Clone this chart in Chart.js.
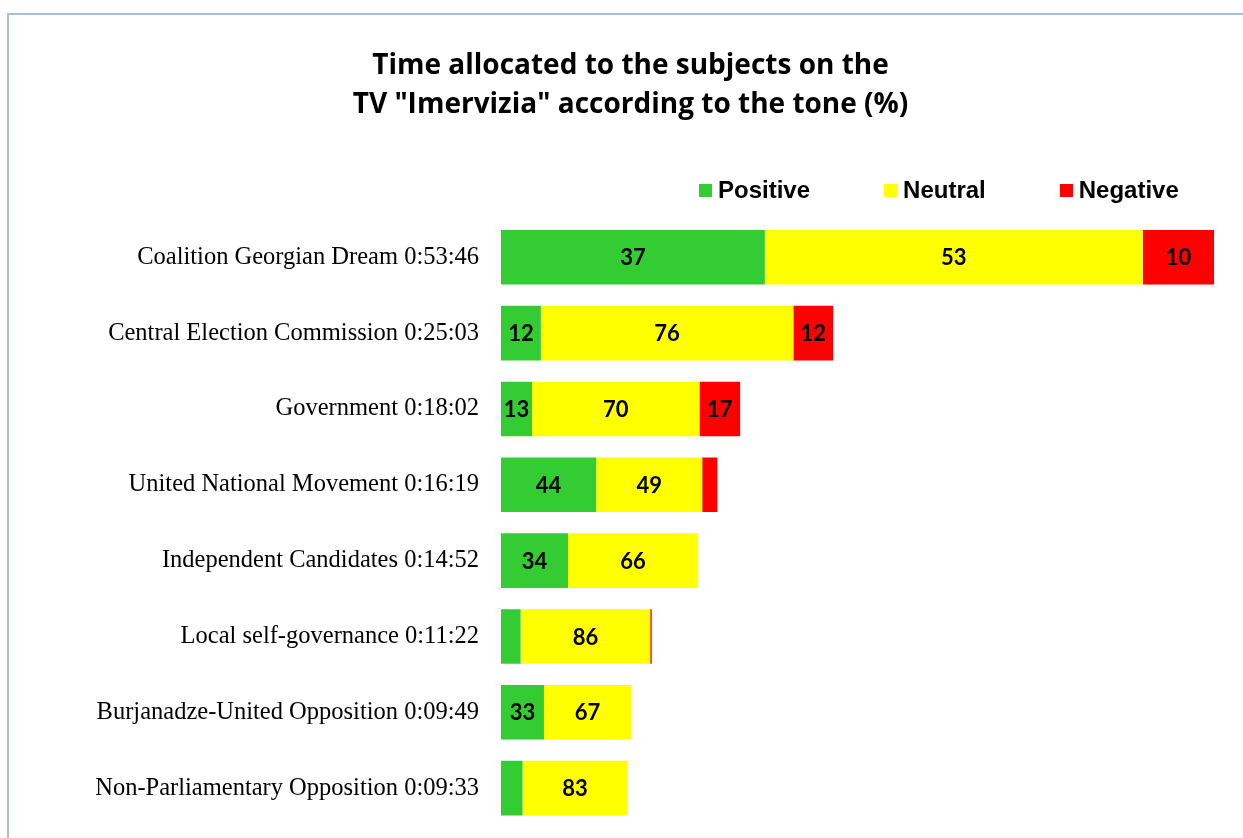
<!DOCTYPE html>
<html>
<head>
<meta charset="utf-8">
<title>Imervizia tone</title>
<script src="https://cdn.jsdelivr.net/npm/chart.js@4.4.1/dist/chart.umd.min.js"></script>
<style>
  html, body { margin: 0; padding: 0; background: #fff; overflow: hidden; }
  #frame {
    position: absolute; left: 7px; top: 13px; width: 1400px; height: 1000px;
    border-left: 2px solid #a9bfdf; border-top: 2px solid #a9bfdf;
    box-sizing: border-box;
  }
  #wrap { position: absolute; left: 0; top: 0; width: 1243px; height: 838px; }
  #legend {
    position: absolute; left: 699px; top: 176px; height: 28px;
    display: flex; align-items: center;
    font: bold 24px "Liberation Sans", Arial, sans-serif; color: #000;
  }
  .item { display: flex; align-items: center; margin-right: 74px; }
  .item:last-child { margin-right: 0; }
  .swatch { width: 13px; height: 13px; margin-right: 6px; }
</style>
</head>
<body>
<div id="frame"></div>
<div id="wrap"><canvas id="chart"></canvas></div>
<div id="legend"></div>
<script>
'use strict';

// ── Data ───────────────────────────────────────────────────────────────────
const subjects  = [
  'Coalition Georgian Dream', 'Central Election Commission', 'Government',
  'United National Movement', 'Independent Candidates', 'Local self-governance',
  'Burjanadze-United Opposition', 'Non-Parliamentary Opposition',
];
const durations = ['0:53:46', '0:25:03', '0:18:02', '0:16:19', '0:14:52', '0:11:22', '0:09:49', '0:09:33'];
const positive  = [37, 12, 13, 44, 34, 13, 33, 17];
const neutral   = [53, 76, 70, 49, 66, 86, 67, 83];
const negative  = [10, 12, 17, 7, 0, 1, 0, 0];
const seriesNames  = ['Positive', 'Neutral', 'Negative'];
const seriesColors = ['#33cc33', '#ffff00', '#ff0000'];

// bar length = airtime, segments = share of that airtime
const seconds = durations.map(d => d.split(':').reduce((acc, p) => acc * 60 + Number(p), 0));
const labels  = subjects.map((s, i) => `${s} ${durations[i]}`);
const shares  = [positive, neutral, negative];

// ── Legend ─────────────────────────────────────────────────────────────────
document.getElementById('legend').innerHTML = seriesNames.map((n, i) =>
  `<div class="item"><div class="swatch" style="background:${seriesColors[i]}"></div>${n}</div>`
).join('');

// ── Segment labels ─────────────────────────────────────────────────────────
const segmentLabels = {
  id: 'segmentLabels',
  afterDatasetsDraw(chart) {
    const ctx = chart.ctx;
    ctx.save();
    ctx.font = 'bold 22px Lato, "Open Sans", sans-serif';
    ctx.fillStyle = '#000';
    ctx.textAlign = 'center';
    ctx.textBaseline = 'middle';
    chart.data.datasets.forEach((ds, di) => {
      chart.getDatasetMeta(di).data.forEach((bar, i) => {
        const { x, base, y } = bar.getProps(['x', 'base', 'y'], true);
        if (Math.abs(x - base) < 28) return;
        ctx.fillText(String(ds.pct[i]), (x + base) / 2, y + 1);
      });
    });
    ctx.restore();
  },
};

// ── Chart ──────────────────────────────────────────────────────────────────
new Chart(document.getElementById('chart'), {
  type: 'bar',
  data: {
    labels,
    datasets: seriesNames.map((name, k) => ({
      label: name,
      data: seconds.map((s, i) => s * shares[k][i] / 100),
      pct: shares[k],
      backgroundColor: seriesColors[k],
      borderWidth: 0,
      barPercentage: 0.72,
      categoryPercentage: 1,
    })),
  },
  options: {
    indexAxis: 'y',
    responsive: true,
    maintainAspectRatio: false,
    animation: false,
    layout: { padding: { left: 18, right: 0, top: 0, bottom: 12 } },
    plugins: {
      legend: { display: false },
      tooltip: { enabled: false },
      title: {
        display: true,
        text: ['Time allocated to the subjects on the', 'TV "Imervizia" according to the tone (%)'],
        color: '#000',
        font: { family: '"Open Sans", Lato, sans-serif', size: 28, weight: 'bold', lineHeight: 1.4 },
        padding: { top: 46, bottom: 95 },
      },
    },
    scales: {
      x: {
        stacked: true, display: false, min: 0, max: 3357,
        grid: { display: false },
      },
      y: {
        stacked: true,
        grid: { display: false, drawTicks: false },
        border: { display: false },
        ticks: {
          color: '#000', padding: 22,
          font: { family: '"Liberation Serif", "Times New Roman", serif', size: 24.5 },
        },
        afterFit(scale) {
          scale.width = 483;
          scale.paddingTop = 0;
          scale.paddingBottom = 0;
        },
      },
    },
  },
  plugins: [segmentLabels],
});
</script>
</body>
</html>
